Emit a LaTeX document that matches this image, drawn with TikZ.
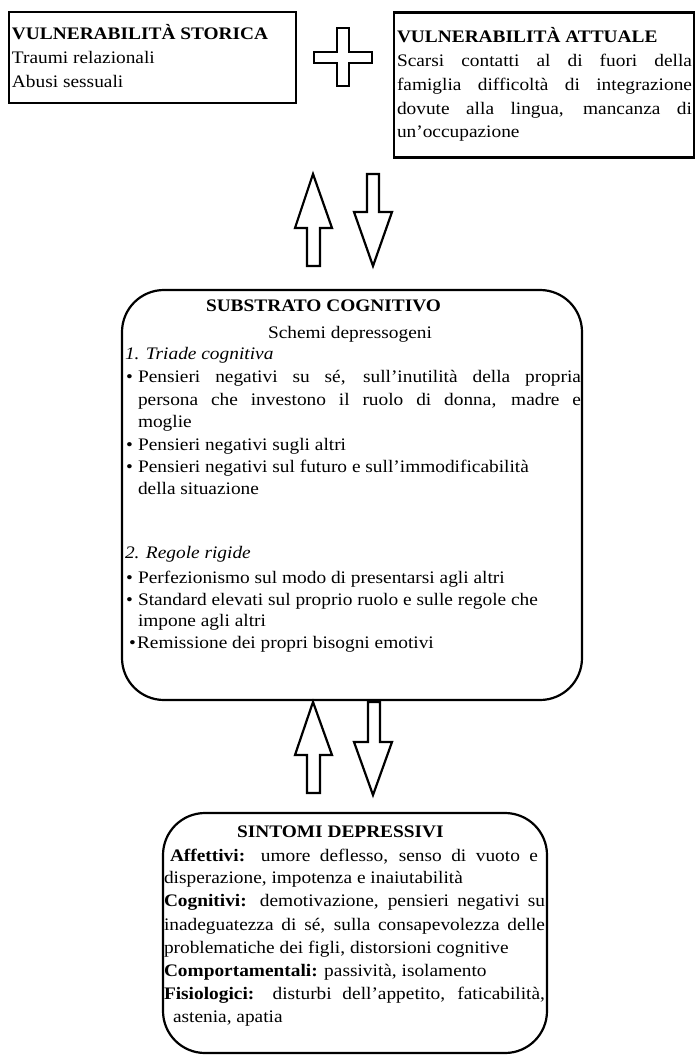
\documentclass[tikz,border=0pt]{standalone}
\usepackage{fontspec}
\setmainfont{Liberation Serif}[FakeStretch=1.1]
\begin{document}
\begin{tikzpicture}[x=1pt,y=-1pt,font=\fontsize{17.6}{21}\selectfont,
  sqbox/.style={draw, line width=2.4pt, rectangle, inner sep=0pt},
  rbox/.style={draw, line width=2.2pt, rectangle, rounded corners=42pt, inner sep=0pt},
  blockarrow/.style={draw, line width=2.2pt, line join=miter, fill=white},
  txt/.style={anchor=base west, inner sep=0pt, outer sep=0pt}]
\useasboundingbox (0,0) rectangle (697,1056);

% boxes
\node[sqbox, minimum width=287pt, minimum height=91pt] (hist) at (152.5,57.5) {};
\node[sqbox, minimum width=300pt, minimum height=145pt] (curr) at (544,85) {};
\node[rbox, minimum width=460pt, minimum height=410pt] (cog) at (352,495) {};
\node[rbox, minimum width=384pt, minimum height=240pt] (sym) at (355,933) {};

% plus sign
\draw[blockarrow] (337,28) -- (349,28) -- (349,52) -- (372,52) -- (372,63) -- (349,63)
  -- (349,86) -- (337,86) -- (337,63) -- (314,63) -- (314,52) -- (337,52) -- cycle;

% arrows between top and middle
\draw[blockarrow] (313,174) -- (332,228) -- (320,228) -- (320,266) -- (307,266) -- (307,228) -- (295,228) -- cycle;
\draw[blockarrow] (367,174) -- (379,174) -- (379,212) -- (392,212) -- (373,266) -- (354,212) -- (367,212) -- cycle;
% arrows between middle and bottom
\draw[blockarrow] (313,702) -- (332,755) -- (320,755) -- (320,793) -- (307,793) -- (307,755) -- (295,755) -- cycle;
\draw[blockarrow] (368,702) -- (380,702) -- (380,742) -- (392,742) -- (373,795) -- (354,742) -- (368,742) -- cycle;

% box 1 text
\node[txt] (h1) at (12,40) {\bfseries VULNERABILITÀ STORICA};
\node[txt] (h2) at (12,64) {Traumi relazionali};
\node[txt] (h3) at (12,88) {Abusi sessuali};

% box 2 text
\node[txt] (c1) at (397,43) {\bfseries VULNERABILITÀ ATTUALE};
\node[txt] (c2) at (397,67) {\makebox[295pt][s]{Scarsi contatti al di fuori della}};
\node[txt] (c3) at (397,91) {\makebox[295pt][s]{famiglia difficoltà di integrazione}};
\node[txt] (c4) at (397,115) {\makebox[295pt][s]{dovute alla lingua, mancanza di}};
\node[txt] (c5) at (397,138) {un’occupazione};

% middle box text
\node[txt] (m1) at (206,311) {\bfseries SUBSTRATO COGNITIVO};
\node[txt] (m2) at (268,338) {Schemi depressogeni};
\node[txt] (m3) at (125,359) {\itshape 1. Triade cognitiva};
\node[txt] (b1) at (126,382) {•};
\node[txt] (m4) at (138,382) {\makebox[443pt][s]{Pensieri negativi su sé, sull’inutilità della propria}};
\node[txt] (m5) at (138,405) {\makebox[443pt][s]{persona che investono il ruolo di donna, madre e}};
\node[txt] (m6) at (138,427) {moglie};
\node[txt] (b2) at (126,450) {•};
\node[txt] (m7) at (138,450) {Pensieri negativi sugli altri};
\node[txt] (b3) at (126,472) {•};
\node[txt] (m8) at (138,472) {Pensieri negativi sul futuro e sull’immodificabilità};
\node[txt] (m9) at (138,494) {della situazione};
\node[txt] (m10) at (125,558) {\itshape 2. Regole rigide};
\node[txt] (b4) at (126,583) {•};
\node[txt] (m11) at (138,583) {Perfezionismo sul modo di presentarsi agli altri};
\node[txt] (b5) at (126,605) {•};
\node[txt] (m12) at (138,605) {Standard elevati sul proprio ruolo e sulle regole che};
\node[txt] (m13) at (138,626) {impone agli altri};
\node[txt] (b6) at (129,648) {•};
\node[txt] (m14) at (137,648) {Remissione dei propri bisogni emotivi};

% bottom box text
\node[txt] (s0) at (237,837) {\bfseries SINTOMI DEPRESSIVI};
\node[txt] (s1) at (170,861) {\makebox[368pt][s]{\textbf{Affettivi:} umore deflesso, senso di vuoto e}};
\node[txt] (s2) at (164,883) {disperazione, impotenza e inaiutabilità};
\node[txt] (s3) at (164,906) {\makebox[381pt][s]{\textbf{Cognitivi:} demotivazione, pensieri negativi su}};
\node[txt] (s4) at (164,930) {\makebox[381pt][s]{inadeguatezza di sé, sulla consapevolezza delle}};
\node[txt] (s5) at (164,953) {problematiche dei figli, distorsioni cognitive};
\node[txt] (s6) at (164,976) {\textbf{Comportamentali:} passività, isolamento};
\node[txt] (s7) at (164,999) {\makebox[381pt][s]{\textbf{Fisiologici:} disturbi dell’appetito, faticabilità,}};
\node[txt] (s8) at (173,1022) {astenia, apatia};
\end{tikzpicture}
\end{document}
